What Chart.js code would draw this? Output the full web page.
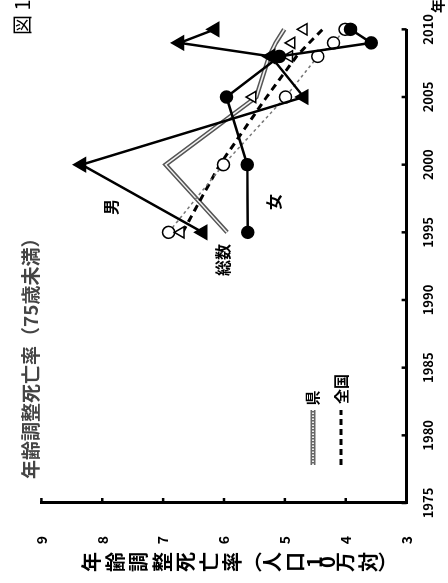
<!DOCTYPE html>
<html>
<head>
<meta charset="utf-8">
<script src="https://cdn.jsdelivr.net/npm/chart.js@4.4.1/dist/chart.umd.min.js"></script>
<style>
  html, body { margin: 0; padding: 0; background: #fff; overflow: hidden; }
  #wrap {
    position: absolute; left: 0; top: 0; width: 583px; height: 448px;
    transform-origin: 0 0;
    transform: translate(0px, 583px) rotate(-90deg); /* the figure is printed sideways */
  }
</style>
</head>
<body>
<div id="wrap"><canvas id="chart" width="583" height="448"></canvas></div>
<script>
// data
const years = [1995, 2000, 2005, 2008, 2009, 2010];
const maleValues = [6.35, 8.34, 4.69, 5.23, 6.73, 6.15];     // 男 (県)
const femaleValues = [5.61, 5.62, 5.96, 5.09, 3.58, 3.92];   // 女 (県)
const prefTotal = [5.95, 6.96, 5.47, 5.26, 5.15, 5.01];      // 総数 (県)
const nationTotal = [6.68, 6.07, 5.30, 4.81, 4.60, 4.38];    // 総数 (全国)
const nationMale = [6.71, null, 5.53, 4.93, 4.89, 4.69];     // 男 (全国)
const nationFemale = [6.91, 6.01, 4.99, 4.46, 4.20, 4.01];   // 女 (全国)
const yearTicks = [1975, 1980, 1985, 1990, 1995, 2000, 2005, 2010];
const valueTicks = [3, 4, 5, 6, 7, 8, 9];

const FONT = '"Noto Sans CJK JP", "Noto Sans", sans-serif';

function pts(arr) {
  return years.map((yr, i) => ({ x: yr, y: arr[i] }));
}

// labels, legend, inner ticks and the vertical axis title
const decorations = {
  id: 'decorations',
  afterDraw(chart) {
    const ctx = chart.ctx;
    const xs = chart.scales.x, ys = chart.scales.y;
    const area = chart.chartArea;
    ctx.save();

    // inward tick marks
    ctx.strokeStyle = '#000';
    ctx.lineWidth = 2.5;
    yearTicks.forEach(t => {
      const px = xs.getPixelForValue(t);
      ctx.beginPath(); ctx.moveTo(px, area.bottom); ctx.lineTo(px, area.bottom - 5); ctx.stroke();
    });
    valueTicks.forEach(t => {
      const py = ys.getPixelForValue(t);
      ctx.beginPath(); ctx.moveTo(area.left, py); ctx.lineTo(area.left + 5, py); ctx.stroke();
    });

    ctx.fillStyle = '#000';
    ctx.textBaseline = 'middle';
    ctx.textAlign = 'center';

    // vertical y-axis title (tategaki)
    const title = ['年', '齢', '調', '整', '死', '亡', '率', '︵', '人', '口', '1', '0', '万', '対', '︶'];
    ctx.font = 'bold 20px ' + FONT;
    let v = 80;
    title.forEach(ch => {
      const step = /[0-9]/.test(ch) ? 13 : (ch === '︵' || ch === '︶' ? 16 : 23.5);
      ctx.fillText(ch, 21, v + step / 2);
      v += step;
    });

    // x-axis unit
    ctx.font = 'bold 14px ' + FONT;
    ctx.fillText('年', 577, 438);

    // figure number
    ctx.textAlign = 'left';
    ctx.font = '20px ' + FONT;
    ctx.fillText('図 1', 548, 22);

    // inner title
    ctx.fillStyle = '#444';
    ctx.font = 'bold 19px ' + FONT;
    ctx.fillText('年齢調整死亡率（75歳未満）', 104, 31);

    // series labels
    ctx.fillStyle = '#000';
    ctx.textAlign = 'center';
    ctx.font = 'bold 16px ' + FONT;
    ctx.fillText('男', 376, 111);
    ctx.fillText('女', 381, 274);
    ctx.fillText('総数', 323, 223);

    // legend
    ctx.lineWidth = 5;
    ctx.strokeStyle = '#666';
    ctx.beginPath(); ctx.moveTo(118, 313); ctx.lineTo(173, 313); ctx.stroke();
    ctx.lineWidth = 2;
    ctx.strokeStyle = '#eee';
    ctx.setLineDash([1.5, 1.5]);
    ctx.beginPath(); ctx.moveTo(118, 313); ctx.lineTo(173, 313); ctx.stroke();
    ctx.strokeStyle = '#000';
    ctx.lineWidth = 3;
    ctx.setLineDash([6, 4]);
    ctx.beginPath(); ctx.moveTo(118, 341); ctx.lineTo(173, 341); ctx.stroke();
    ctx.setLineDash([]);
    ctx.font = 'bold 15px ' + FONT;
    ctx.fillText('県', 185, 312);
    ctx.fillText('全国', 194, 341);

    ctx.restore();
  }
};

new Chart(document.getElementById('chart').getContext('2d'), {
  type: 'line',
  data: {
    datasets: [
      {
        label: '男',
        data: pts(maleValues),
        borderColor: '#000',
        borderWidth: 2.5,
        pointStyle: 'triangle',
        pointRadius: 7,
        pointBackgroundColor: '#000',
        pointBorderColor: '#000',
        tension: 0,
        clip: false
      },
      {
        label: '女',
        data: pts(femaleValues),
        borderColor: '#000',
        borderWidth: 2.5,
        pointStyle: 'circle',
        pointRadius: 5.5,
        pointBackgroundColor: '#000',
        pointBorderColor: '#000',
        tension: 0,
        clip: false
      },
      {
        label: '全国 男',
        data: pts(nationMale),
        showLine: false,
        pointStyle: 'triangle',
        pointRadius: 6.5,
        pointBorderWidth: 1.5,
        pointBackgroundColor: '#fff',
        pointBorderColor: '#000',
        clip: false
      },
      {
        label: '全国 女',
        data: pts(nationFemale),
        borderColor: '#777',
        borderWidth: 1.5,
        borderDash: [3, 3],
        pointStyle: 'circle',
        pointRadius: 6,
        pointBorderWidth: 1.5,
        pointBackgroundColor: '#fff',
        pointBorderColor: '#000',
        tension: 0,
        clip: false
      },
      {
        label: '全国',
        data: pts(nationTotal),
        borderColor: '#000',
        borderWidth: 3,
        borderDash: [7, 5],
        pointRadius: 0,
        tension: 0,
        clip: false
      },
      {
        label: '県 inner',
        data: pts(prefTotal),
        borderColor: '#f2f2f2',
        borderWidth: 1.5,
        pointRadius: 0,
        tension: 0,
        clip: false
      },
      {
        label: '県',
        data: pts(prefTotal),
        borderColor: '#555',
        borderWidth: 4.5,
        pointRadius: 0,
        tension: 0,
        clip: false
      }
    ]
  },
  options: {
    responsive: false,
    animation: false,
    devicePixelRatio: 1,
    spanGaps: true,
    layout: { padding: { top: 27, right: 26, left: 0, bottom: 0 } },
    plugins: {
      legend: { display: false },
      tooltip: { enabled: false }
    },
    scales: {
      x: {
        type: 'linear',
        min: 1975,
        max: 2010,
        afterFit: s => { s.height = 32; },
        afterBuildTicks: s => { s.ticks = yearTicks.map(v => ({ value: v })); },
        grid: { display: false, drawTicks: false },
        border: { display: true, color: '#000', width: 3 },
        ticks: {
          color: '#000',
          padding: 14,
          maxRotation: 0,
          font: { family: FONT, size: 13, weight: 'bold' },
          callback: v => String(v)
        }
      },
      y: {
        min: 3,
        max: 9,
        afterFit: s => { s.width = 80; },
        afterBuildTicks: s => { s.ticks = valueTicks.map(v => ({ value: v })); },
        grid: { display: false, drawTicks: false },
        border: { display: true, color: '#000', width: 3 },
        ticks: {
          color: '#000',
          padding: 33,
          font: { family: FONT, size: 14, weight: 'bold' }
        }
      }
    }
  },
  plugins: [decorations]
});
</script>
</body>
</html>
